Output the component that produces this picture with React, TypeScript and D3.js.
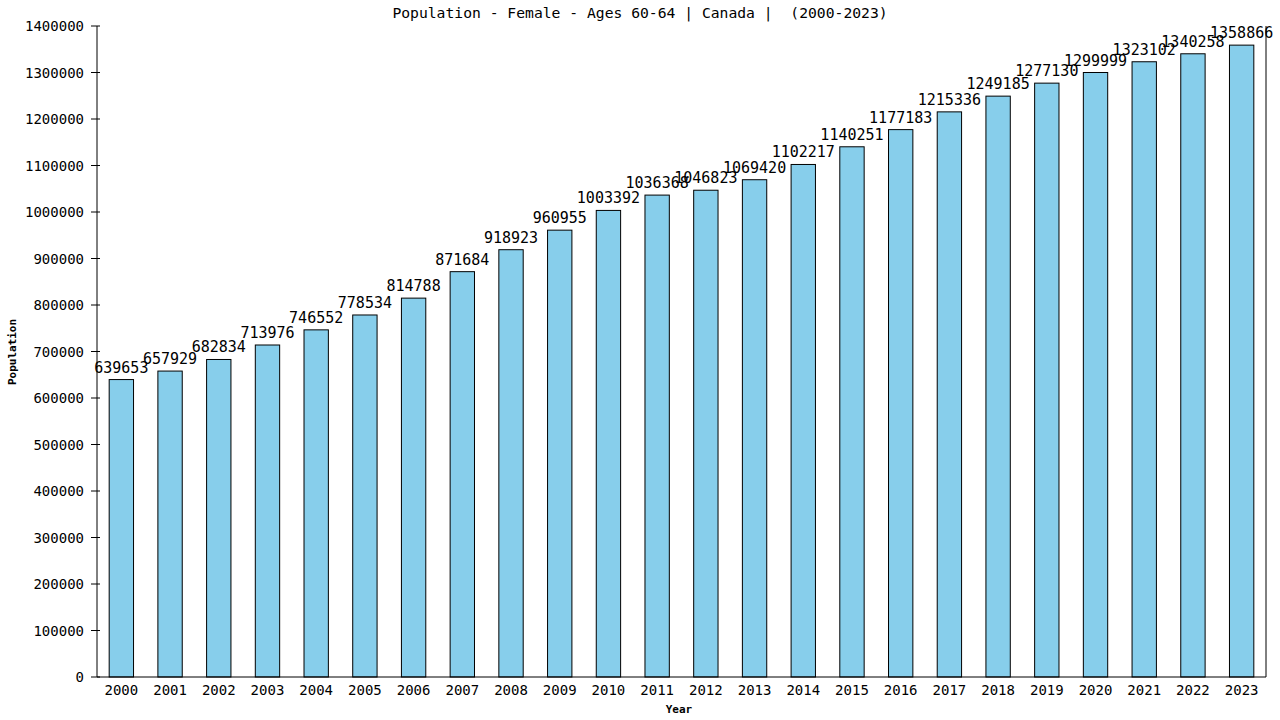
import React from 'react';
import * as d3 from 'd3';

const years = ['2000', '2001', '2002', '2003', '2004', '2005', '2006', '2007', '2008', '2009', '2010', '2011', '2012', '2013', '2014', '2015', '2016', '2017', '2018', '2019', '2020', '2021', '2022', '2023'];
const population = [639653, 657929, 682834, 713976, 746552, 778534, 814788, 871684, 918923, 960955, 1003392, 1036368, 1046823, 1069420, 1102217, 1140251, 1177183, 1215336, 1249185, 1277130, 1299999, 1323102, 1340258, 1358866];
const yTicks = [0, 100000, 200000, 300000, 400000, 500000, 600000, 700000, 800000, 900000, 1000000, 1100000, 1200000, 1300000, 1400000];

const width = 1280;
const height = 720;
const margin = { top: 26, right: 14, bottom: 43, left: 97 };
const font = '"DejaVu Sans Mono", monospace';

const App: React.FC = () => {
  const x = d3.scaleBand<string>()
    .domain(years)
    .range([margin.left, width - margin.right])
    .paddingInner(0.5)
    .paddingOuter(0.25);

  const y = d3.scaleLinear()
    .domain([0, 1400000])
    .range([height - margin.bottom, margin.top]);

  const bottom = height - margin.bottom;

  return (
    <svg width={width} height={height} style={{ position: 'absolute', left: 0, top: 0, background: '#fff' }}
      fontFamily={font}>
      <text x={640} y={18} textAnchor="middle" fontSize={14.7} style={{ whiteSpace: 'pre' }}>
        {'Population - Female - Ages 60-64 | Canada |  (2000-2023)'}
      </text>

      {/* Bars */}
      {years.map((yr, i) => (
        <g key={yr}>
          <rect x={x(yr)!} y={y(population[i])} width={x.bandwidth()} height={bottom - y(population[i])}
            fill="#87ceeb" stroke="#000" strokeWidth={1} />
          <text x={x(yr)! + x.bandwidth() / 2} y={y(population[i]) - 7} textAnchor="middle" fontSize={15}>
            {population[i]}
          </text>
        </g>
      ))}

      {/* Y axis */}
      <line x1={margin.left} x2={margin.left} y1={margin.top} y2={bottom} stroke="#000" />
      <line x1={width - margin.right} x2={width - margin.right} y1={margin.top} y2={bottom} stroke="#000" />
      {yTicks.map(t => (
        <g key={t}>
          <line x1={margin.left - 6} x2={margin.left + 3} y1={y(t)} y2={y(t)} stroke="#000" />
          <text x={margin.left - 13} y={y(t) + 5} textAnchor="end" fontSize={14}>{t}</text>
        </g>
      ))}

      {/* X axis */}
      <line x1={margin.left} x2={width - margin.right} y1={bottom} y2={bottom} stroke="#000" />
      {years.map(yr => (
        <text key={yr} x={x(yr)! + x.bandwidth() / 2} y={bottom + 18} textAnchor="middle" fontSize={14}>{yr}</text>
      ))}

      <text x={679} y={713} textAnchor="middle" fontSize={11} fontWeight="bold">Year</text>
      <text transform={`translate(16,352) rotate(-90)`} textAnchor="middle" fontSize={11} fontWeight="bold">Population</text>
    </svg>
  );
};

export default App;
